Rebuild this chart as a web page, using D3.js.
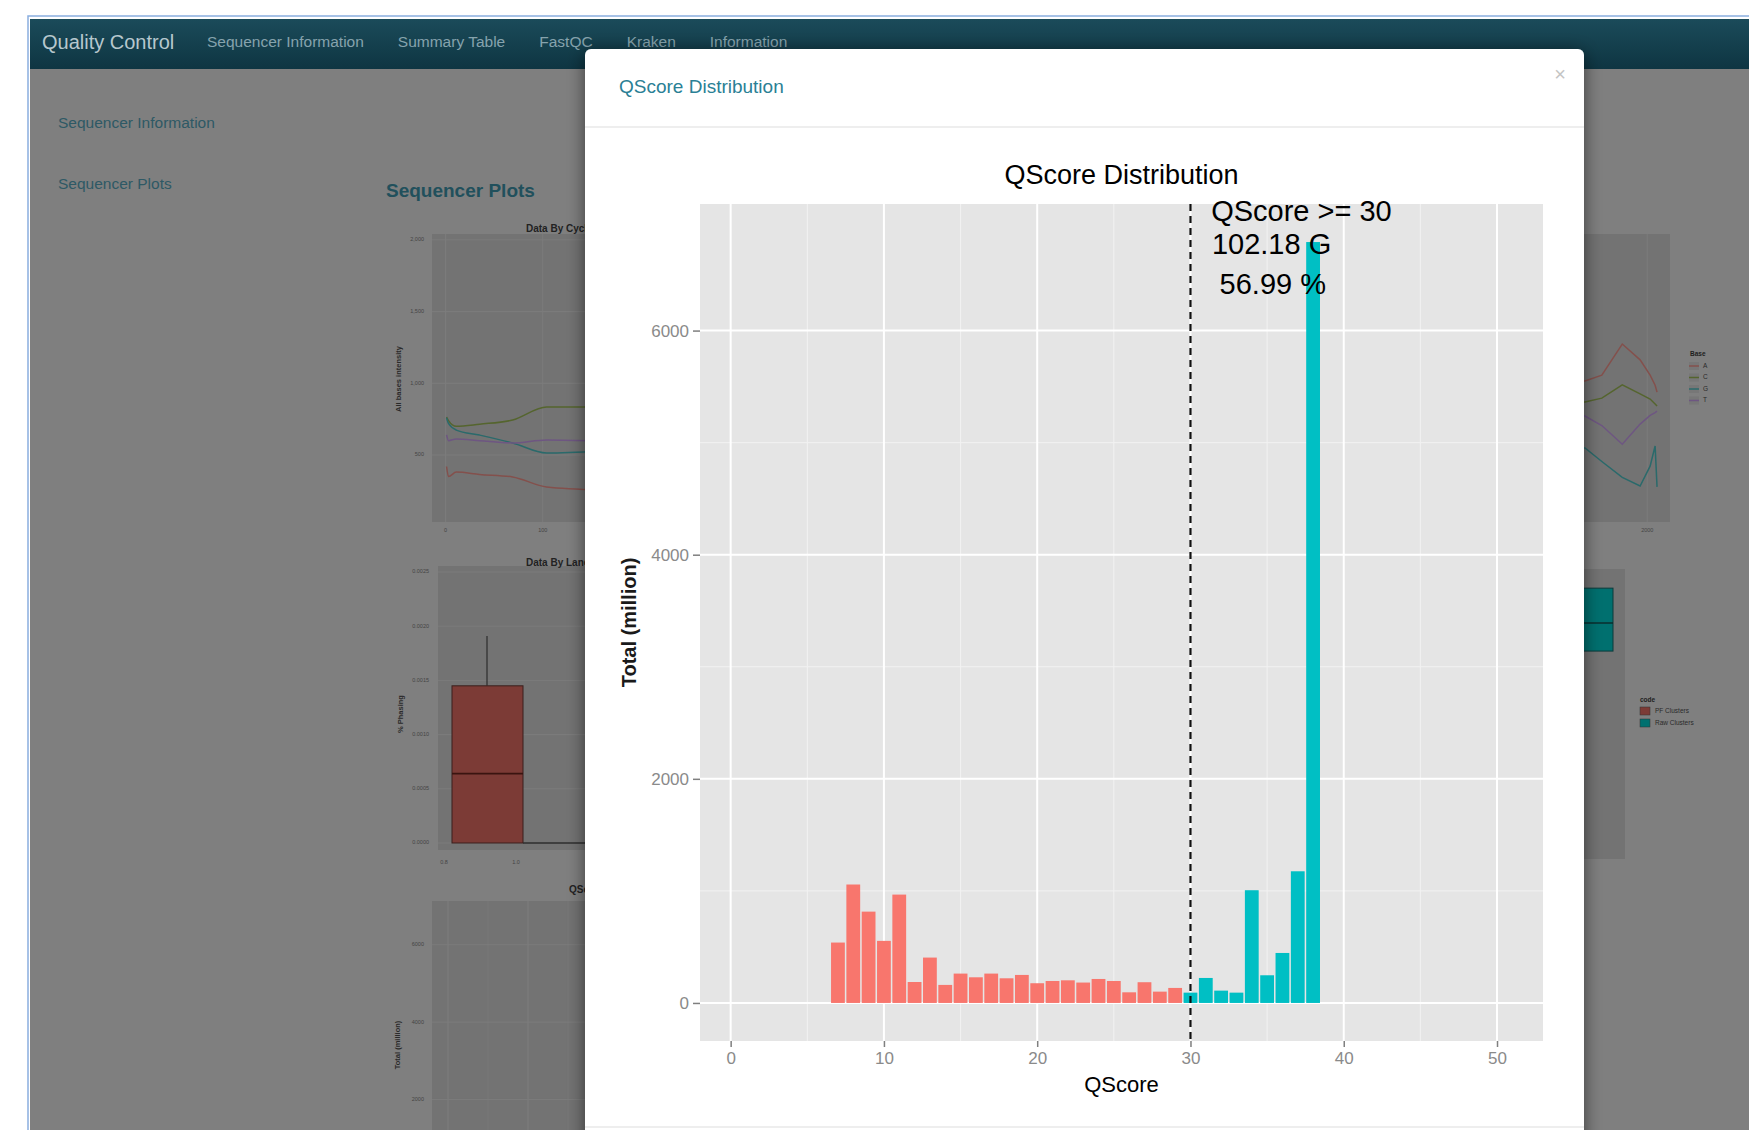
<!DOCTYPE html>
<html><head>
<meta charset="utf-8">
<title>QScore Distribution</title>
<script src="https://d3js.org/d3.v7.min.js"></script>
<style>
  html, body { margin:0; padding:0; background:#fff; overflow:hidden; }
  svg { display:block; }
  text { font-family: "Liberation Sans", Arial, Helvetica, sans-serif; }
</style>
</head>
<body>
<svg id="page" width="1749" height="1130"></svg>

<script>
// ---------------- data ----------------
// main chart: total (million) per QScore
const qscores = [7, 8, 9, 10, 11, 12, 13, 14, 15, 16, 17, 18, 19, 20, 21, 22,
                 23, 24, 25, 26, 27, 28, 29, 30, 31, 32, 33, 34, 35, 36, 37, 38];
const totals  = [539, 1057, 815, 554, 967, 187, 405, 161, 262, 229, 262, 220, 250, 176, 196, 202,
                 182, 214, 196, 95, 185, 101, 134, 92, 223, 110, 92, 1006, 247, 446, 1175, 6790];
const threshold = 30;
const xTicks = [0, 10, 20, 30, 40, 50];
const yTicks = [0, 2000, 4000, 6000];
const xMinor = [5, 15, 25, 35, 45];
const yMinor = [1000, 3000, 5000];
const annotation = ["QScore >= 30", "102.18 G", "56.99 %"];

// page chrome
const brand = "Quality Control";
const navItems = ["Sequencer Information", "Summary Table", "FastQC", "Kraken", "Information"];
const sideLinks = ["Sequencer Information", "Sequencer Plots"];

// background plots (behind the modal)
const bases = ["A", "C", "G", "T"];
const cycles = [1, 3, 11, 35, 69, 104, 159];
const intensityA = [420, 350, 381, 365, 347, 277, 256];
const intensityC = [765, 740, 700, 715, 744, 835, 835];
const intensityG = [760, 720, 674, 639, 584, 514, 528];
const intensityT = [640, 600, 612, 600, 584, 605, 598];
const intensityTicks = [500, 1000, 1500, 2000];
const cycleTicks = [0, 100];

const tiles = [1300, 1452, 1600, 1780, 1937, 2025, 2069, 2086];
const pctA = [49, 49, 51, 61.8, 56.3, 51, 47.5, 45.1];
const pctC = [41.7, 41.7, 43, 47.6, 44.5, 42.7, 41, 40.3];
const pctG = [25.7, 25.7, 21, 15.5, 12.5, 19.4, 26.4, 12.2];
const pctT = [36.8, 36.8, 33.5, 27, 34, 37, 38, 38.5];
const tileTicks = [2000];

const phasingTicks = [0, 0.0005, 0.0010, 0.0015, 0.0020, 0.0025];
const phasingBox = { q1: 0, median: 0.00064, q3: 0.00145, hi: 0.00191 };
const clusterBox = { q1: 71.7, median: 81.4, q3: 93.4 };
const codes = ["PF Clusters", "Raw Clusters"];

const baseColorsDim = ["#84504c", "#55652e", "#2a6a6b", "#6e5682"];

// ---------------- page ----------------
const svg = d3.select("#page");
const W = 1749, H = 1130;
const defs = svg.append("defs");

const navGrad = defs.append("linearGradient").attr("id", "navGrad")
  .attr("x1", 0).attr("y1", 0).attr("x2", 0).attr("y2", 1);
navGrad.append("stop").attr("offset", "0%").attr("stop-color", "#1b4b5a");
navGrad.append("stop").attr("offset", "100%").attr("stop-color", "#0e3542");

const shadow = defs.append("filter").attr("id", "shadow")
  .attr("x", "-10%").attr("y", "-10%").attr("width", "120%").attr("height", "120%");
shadow.append("feDropShadow").attr("dx", 0).attr("dy", 3).attr("stdDeviation", 9)
  .attr("flood-color", "#000").attr("flood-opacity", 0.55);

// frame + greyed body
svg.append("rect").attr("x", 28).attr("y", 16).attr("width", W).attr("height", H)
  .attr("fill", "#fff").attr("stroke", "#8aaee0").attr("stroke-width", 1.5);
svg.append("rect").attr("x", 30).attr("y", 19).attr("width", W).attr("height", H)
  .attr("fill", "#7f7f7f");

// navbar
svg.append("rect").attr("x", 30).attr("y", 19).attr("width", W).attr("height", 50)
  .attr("fill", "url(#navGrad)");
svg.append("text").attr("x", 42).attr("y", 44).attr("dominant-baseline", "middle")
  .attr("font-size", 20).attr("fill", "#b7c8ce").text(brand);

let navX = 207;
navItems.forEach(item => {
  const t = svg.append("text").attr("x", navX).attr("y", 43).attr("dominant-baseline", "middle")
    .attr("font-size", 15.5).attr("fill", "#86a3ad").text(item);
  navX += t.node().getComputedTextLength() + 34;
});

// sidebar
svg.selectAll("text.side").data(sideLinks).join("text")
  .attr("class", "side")
  .attr("x", 58).attr("y", (d, i) => 124 + i * 61)
  .attr("dominant-baseline", "middle")
  .attr("font-size", 15.5).attr("fill", "#2e5965").text(d => d);

svg.append("text").attr("x", 386).attr("y", 192).attr("dominant-baseline", "middle")
  .attr("font-size", 19).attr("font-weight", "bold").attr("fill", "#21505c").text("Sequencer Plots");

// ---------------- background plots (dimmed) ----------------
const bg = svg.append("g");
const dimPanel = "#737373", dimGrid = "#7c7c7c", dimText = "#444";

function dimTitle(txt, xx, yy) {
  bg.append("text").attr("x", xx).attr("y", yy).attr("dominant-baseline", "middle")
    .attr("font-size", 10).attr("font-weight", "bold").attr("fill", "#222").text(txt);
}
function dimYLabel(txt, xx, yy) {
  bg.append("text").attr("transform", `translate(${xx},${yy}) rotate(-90)`)
    .attr("text-anchor", "middle").attr("dominant-baseline", "middle")
    .attr("font-size", 7.5).attr("font-weight", "bold").attr("fill", "#2a2a2a").text(txt);
}

// plot 1: data by cycle (left)
{
  const bx = d3.scaleLinear().domain([-14, 300]).range([432, 737]);
  const by = d3.scaleLinear().domain([33, 2041]).range([522, 234]);
  bg.append("rect").attr("x", 432).attr("y", 234).attr("width", 305).attr("height", 288).attr("fill", dimPanel);
  bg.selectAll(null).data(intensityTicks).join("line")
    .attr("x1", 432).attr("x2", 737).attr("y1", d => by(d)).attr("y2", d => by(d))
    .attr("stroke", dimGrid).attr("stroke-width", 1);
  bg.selectAll(null).data(cycleTicks).join("line")
    .attr("x1", d => bx(d)).attr("x2", d => bx(d)).attr("y1", 234).attr("y2", 522)
    .attr("stroke", dimGrid).attr("stroke-width", 1);
  bg.selectAll(null).data(intensityTicks).join("text")
    .attr("x", 424).attr("y", d => by(d)).attr("text-anchor", "end").attr("dominant-baseline", "middle")
    .attr("font-size", 5.5).attr("fill", dimText).text(d3.format(","));
  bg.selectAll(null).data(cycleTicks).join("text")
    .attr("x", d => bx(d)).attr("y", 531).attr("text-anchor", "middle").attr("dominant-baseline", "middle")
    .attr("font-size", 5.5).attr("fill", dimText).text(d => d);
  const line = d3.line().x((d, i) => bx(cycles[i])).y(d => by(d)).curve(d3.curveMonotoneX);
  [intensityA, intensityC, intensityG, intensityT].forEach((s, k) => {
    bg.append("path").attr("d", line(s)).attr("fill", "none")
      .attr("stroke", baseColorsDim[k]).attr("stroke-width", 1.5);
  });
  dimTitle("Data By Cycle", 526, 229);
  dimYLabel("All bases intensity", 399, 379);
}

// plot 2: phasing box (left)
{
  const by = d3.scaleLinear().domain([0, 0.0025]).range([843, 572]);
  bg.append("rect").attr("x", 438).attr("y", 566).attr("width", 300).attr("height", 284).attr("fill", dimPanel);
  bg.selectAll(null).data(phasingTicks).join("line")
    .attr("x1", 438).attr("x2", 738).attr("y1", d => by(d)).attr("y2", d => by(d))
    .attr("stroke", dimGrid);
  bg.selectAll(null).data(phasingTicks).join("text")
    .attr("x", 429).attr("y", d => by(d)).attr("text-anchor", "end").attr("dominant-baseline", "middle")
    .attr("font-size", 5.5).attr("fill", dimText).text(d3.format(".4f"));
  bg.append("line").attr("x1", 487).attr("x2", 487).attr("y1", by(phasingBox.hi)).attr("y2", by(phasingBox.q3))
    .attr("stroke", "#2c2c2c").attr("stroke-width", 1.2);
  bg.append("rect").attr("x", 452).attr("y", by(phasingBox.q3)).attr("width", 71)
    .attr("height", by(phasingBox.q1) - by(phasingBox.q3))
    .attr("fill", "#7c3b36").attr("stroke", "#3a1f1c").attr("stroke-width", 1);
  bg.append("line").attr("x1", 452).attr("x2", 523).attr("y1", by(phasingBox.median)).attr("y2", by(phasingBox.median))
    .attr("stroke", "#3a1410").attr("stroke-width", 1.6);
  bg.append("line").attr("x1", 523).attr("x2", 600).attr("y1", by(0)).attr("y2", by(0))
    .attr("stroke", "#2c2c2c").attr("stroke-width", 1.6);
  bg.selectAll(null).data(["0.8", "1.0"]).join("text")
    .attr("x", (d, i) => 444 + i * 72).attr("y", 864).attr("text-anchor", "middle")
    .attr("font-size", 5.5).attr("fill", dimText).text(d => d);
  dimTitle("Data By Lane", 526, 563);
  dimYLabel("% Phasing", 401, 714);
}

// plot 3: small qscore distribution (left)
{
  const bx = d3.scaleLinear().domain([-2, 53]).range([432, 872]);
  const by = d3.scaleLinear().domain([-340, 7130]).range([1190, 901]);
  bg.append("rect").attr("x", 432).attr("y", 901).attr("width", 440).attr("height", 289).attr("fill", dimPanel);
  bg.selectAll(null).data(yTicks).join("line")
    .attr("x1", 432).attr("x2", 872).attr("y1", d => by(d)).attr("y2", d => by(d)).attr("stroke", dimGrid);
  bg.selectAll(null).data(xTicks.concat(xMinor)).join("line")
    .attr("x1", d => bx(d)).attr("x2", d => bx(d)).attr("y1", 901).attr("y2", 1190)
    .attr("stroke", dimGrid).attr("stroke-width", (d, i) => i < xTicks.length ? 1.2 : 0.6);
  bg.selectAll(null).data(yTicks.filter(d => by(d) < 1120)).join("text")
    .attr("x", 424).attr("y", d => by(d)).attr("text-anchor", "end").attr("dominant-baseline", "middle")
    .attr("font-size", 5.5).attr("fill", dimText).text(d => d);
  dimTitle("QScore Distribution", 569, 890);
  dimYLabel("Total (million)", 398, 1045);
}

// plot 4: right side, by base
{
  const bx = d3.scaleLinear().domain([0, 2200]).range([1420, 1670]);
  const by = d3.scaleLinear().domain([0, 100]).range([522, 234]);
  bg.append("rect").attr("x", 1500).attr("y", 234).attr("width", 170).attr("height", 288).attr("fill", dimPanel);
  bg.selectAll(null).data(tileTicks).join("line")
    .attr("x1", d => bx(d)).attr("x2", d => bx(d)).attr("y1", 234).attr("y2", 522).attr("stroke", dimGrid);
  bg.selectAll(null).data(tileTicks).join("text")
    .attr("x", d => bx(d)).attr("y", 531).attr("text-anchor", "middle").attr("dominant-baseline", "middle")
    .attr("font-size", 5.5).attr("fill", dimText).text(d => d);
  const line = d3.line().x((d, i) => bx(tiles[i])).y(d => by(d));
  [pctA, pctC, pctG, pctT].forEach((s, k) => {
    bg.append("path").attr("d", line(s)).attr("fill", "none")
      .attr("stroke", baseColorsDim[k]).attr("stroke-width", 1.5);
  });
  bg.append("text").attr("x", 1690).attr("y", 354).attr("font-size", 6.5).attr("font-weight", "bold")
    .attr("fill", "#1e1e1e").attr("dominant-baseline", "middle").text("Base");
  bases.forEach((b, k) => {
    const yy = 366 + k * 11.5;
    bg.append("rect").attr("x", 1689).attr("y", yy - 4).attr("width", 10).attr("height", 8).attr("fill", "#777");
    bg.append("line").attr("x1", 1689).attr("x2", 1699).attr("y1", yy).attr("y2", yy)
      .attr("stroke", baseColorsDim[k]).attr("stroke-width", 1.5);
    bg.append("text").attr("x", 1703).attr("y", yy).attr("dominant-baseline", "middle")
      .attr("font-size", 6.5).attr("fill", "#2a2a2a").text(b);
  });
}

// plot 5: right side, cluster box
{
  const by = d3.scaleLinear().domain([0, 100]).range([859, 569]);
  bg.append("rect").attr("x", 1500).attr("y", 569).attr("width", 125).attr("height", 290).attr("fill", dimPanel);
  bg.append("rect").attr("x", 1560).attr("y", by(clusterBox.q3)).attr("width", 53)
    .attr("height", by(clusterBox.q1) - by(clusterBox.q3))
    .attr("fill", "#00706f").attr("stroke", "#0c3a3a").attr("stroke-width", 1);
  bg.append("line").attr("x1", 1560).attr("x2", 1613).attr("y1", by(clusterBox.median)).attr("y2", by(clusterBox.median))
    .attr("stroke", "#0a2e2e").attr("stroke-width", 1.6);
  bg.append("text").attr("x", 1640).attr("y", 700).attr("font-size", 6.5).attr("font-weight", "bold")
    .attr("fill", "#1e1e1e").attr("dominant-baseline", "middle").text("code");
  codes.forEach((c, k) => {
    const yy = 711 + k * 12;
    bg.append("rect").attr("x", 1640).attr("y", yy - 4).attr("width", 10).attr("height", 8)
      .attr("fill", k === 0 ? "#7c3b36" : "#00706f").attr("stroke", "#333").attr("stroke-width", 0.5);
    bg.append("text").attr("x", 1655).attr("y", yy).attr("dominant-baseline", "middle")
      .attr("font-size", 6.5).attr("fill", "#2a2a2a").text(c);
  });
}

// ---------------- modal ----------------
const modal = svg.append("g");
modal.append("rect").attr("x", 585).attr("y", 49).attr("width", 999).attr("height", 1120)
  .attr("rx", 6).attr("fill", "#fff").attr("filter", "url(#shadow)");
modal.append("text").attr("x", 619).attr("y", 88).attr("dominant-baseline", "middle")
  .attr("font-size", 19).attr("fill", "#2a8095").text("QScore Distribution");
modal.append("text").attr("x", 1560).attr("y", 76).attr("text-anchor", "middle").attr("dominant-baseline", "middle")
  .attr("font-size", 20).attr("fill", "#c4c4c4").text("×");
modal.append("line").attr("x1", 585).attr("x2", 1584).attr("y1", 127).attr("y2", 127)
  .attr("stroke", "#e8e8e8").attr("stroke-width", 1.5);
modal.append("line").attr("x1", 585).attr("x2", 1584).attr("y1", 1127).attr("y2", 1127)
  .attr("stroke", "#e8e8e8").attr("stroke-width", 1.5);

// ---------------- chart (ggplot style) ----------------
const panel = { left: 700, right: 1543, top: 204, bottom: 1041 };
const yMax = d3.max(totals);
const x = d3.scaleLinear().domain([-2, 53]).range([panel.left, panel.right]);
const y = d3.scaleLinear().domain([-0.05 * yMax, 1.05 * yMax]).range([panel.bottom, panel.top]);

const chart = svg.append("g");
chart.append("rect").attr("x", panel.left).attr("y", panel.top)
  .attr("width", panel.right - panel.left).attr("height", panel.bottom - panel.top)
  .attr("fill", "#e5e5e5");

// minor grid
chart.selectAll("line.xminor").data(xMinor).join("line").attr("class", "xminor")
  .attr("x1", d => x(d)).attr("x2", d => x(d)).attr("y1", panel.top).attr("y2", panel.bottom)
  .attr("stroke", "#f2f2f2").attr("stroke-width", 1);
chart.selectAll("line.yminor").data(yMinor).join("line").attr("class", "yminor")
  .attr("x1", panel.left).attr("x2", panel.right).attr("y1", d => y(d)).attr("y2", d => y(d))
  .attr("stroke", "#f2f2f2").attr("stroke-width", 1);
// major grid
chart.selectAll("line.xmajor").data(xTicks).join("line").attr("class", "xmajor")
  .attr("x1", d => x(d)).attr("x2", d => x(d)).attr("y1", panel.top).attr("y2", panel.bottom)
  .attr("stroke", "#fff").attr("stroke-width", 2);
chart.selectAll("line.ymajor").data(yTicks).join("line").attr("class", "ymajor")
  .attr("x1", panel.left).attr("x2", panel.right).attr("y1", d => y(d)).attr("y2", d => y(d))
  .attr("stroke", "#fff").attr("stroke-width", 2);

// bars
chart.selectAll("rect.bar").data(qscores).join("rect").attr("class", "bar")
  .attr("x", d => x(d - 0.45))
  .attr("width", d => x(d + 0.45) - x(d - 0.45))
  .attr("y", (d, i) => y(totals[i]))
  .attr("height", (d, i) => y(0) - y(totals[i]))
  .attr("fill", d => d < threshold ? "#F8766D" : "#00BFC4");

// threshold line
chart.append("line").attr("x1", x(threshold)).attr("x2", x(threshold))
  .attr("y1", panel.top).attr("y2", panel.bottom)
  .attr("stroke", "#111").attr("stroke-width", 2.2).attr("stroke-dasharray", "7,5");

// annotation
const annLeft = [31.35, 31.4, 31.9];
const annVal = [6975, 6680, 6330];
chart.selectAll("text.ann").data(annotation).join("text").attr("class", "ann")
  .attr("x", (d, i) => x(annLeft[i])).attr("y", (d, i) => y(annVal[i]))
  .attr("font-size", 29).attr("fill", "#000").text(d => d);

// axes
const yAxis = chart.append("g").attr("transform", `translate(${panel.left},0)`)
  .call(d3.axisLeft(y).tickValues(yTicks).tickFormat(d3.format("d")).tickSize(7).tickPadding(4));
const xAxis = chart.append("g").attr("transform", `translate(0,${panel.bottom})`)
  .call(d3.axisBottom(x).tickValues(xTicks).tickFormat(d3.format("d")).tickSize(6).tickPadding(5));
[yAxis, xAxis].forEach(a => {
  a.select(".domain").remove();
  a.selectAll(".tick line").attr("stroke", "#7f7f7f").attr("stroke-width", 1.5);
  a.selectAll(".tick text").attr("fill", "#8a8a8a").attr("font-size", 17)
    .attr("font-family", "'Liberation Sans', Arial, sans-serif");
});

// titles
chart.append("text").attr("x", (panel.left + panel.right) / 2).attr("y", 184)
  .attr("text-anchor", "middle").attr("font-size", 27).attr("fill", "#000").text("QScore Distribution");
chart.append("text").attr("x", (panel.left + panel.right) / 2).attr("y", 1092)
  .attr("text-anchor", "middle").attr("font-size", 22).attr("fill", "#000").text("QScore");
chart.append("text").attr("transform", `translate(631,${(panel.top + panel.bottom) / 2}) rotate(-90)`)
  .attr("text-anchor", "middle").attr("dominant-baseline", "middle")
  .attr("font-size", 20).attr("font-weight", "bold").attr("fill", "#1a1a1a").text("Total (million)");
</script>
</body>
</html>
